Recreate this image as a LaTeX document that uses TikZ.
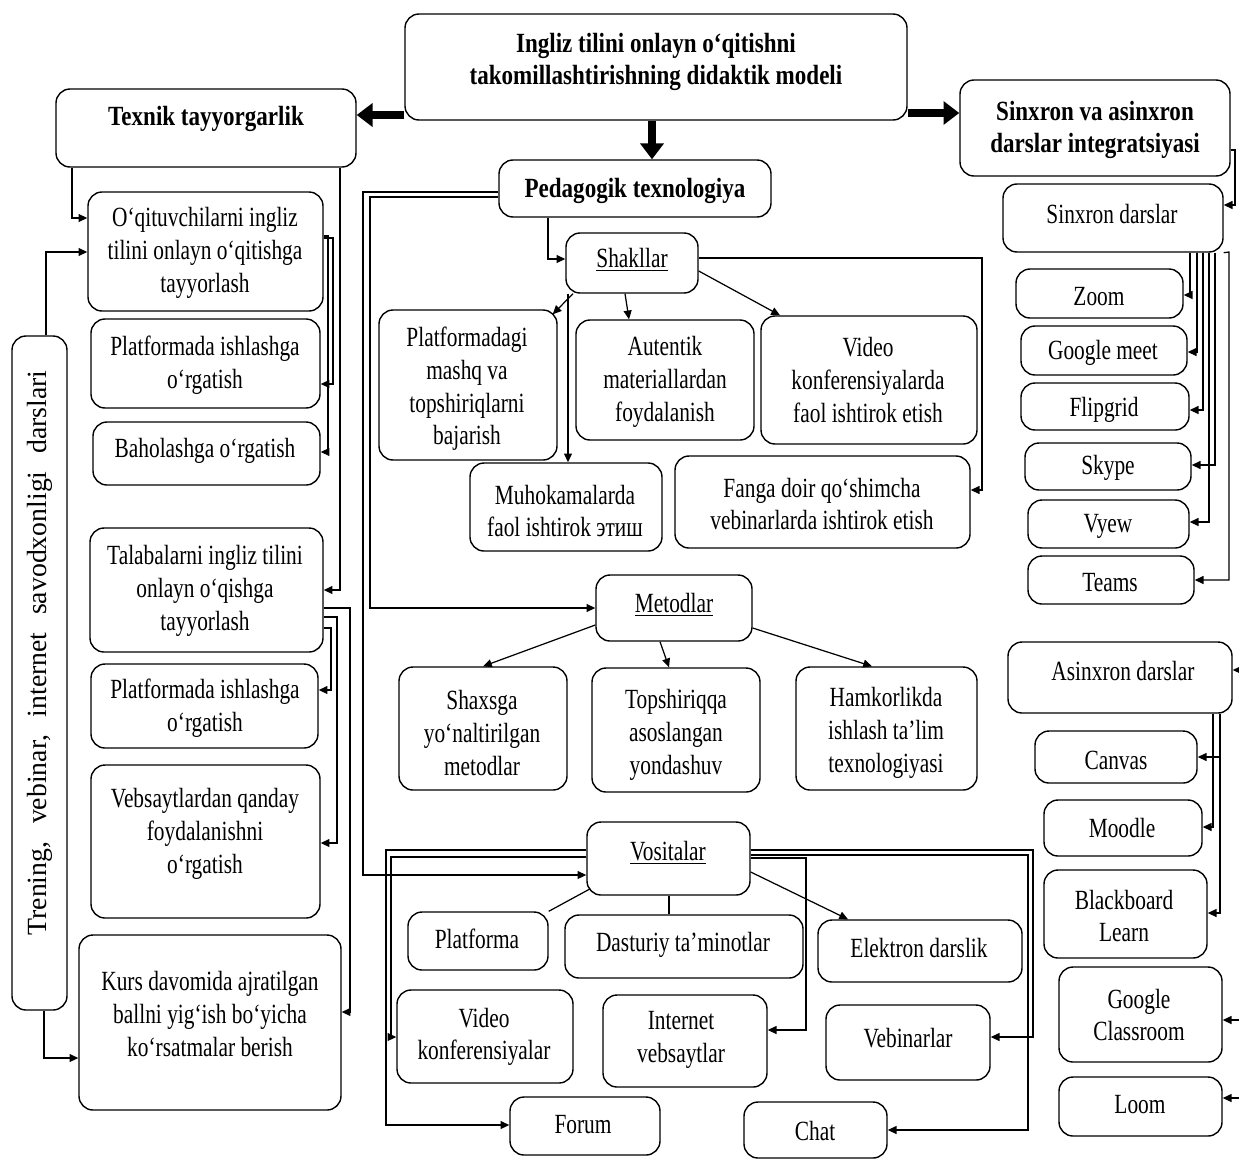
\documentclass[tikz,border=0pt]{standalone}
\usepackage{fontspec}
\setmainfont{Liberation Serif}[FakeStretch=0.77,BoldFeatures={FakeStretch=0.83}]
\newfontfamily\trenfont{Liberation Serif}[FakeStretch=1.0]
\usetikzlibrary{arrows.meta,fit,calc}
\newcommand\mybox[5]{\node[box,fit={(#2,#3)(#4,#5)}] (#1) {};}
\newcommand\mytext[4]{\node[txt] (#1t) at (#2,#3) {#4};}
\newcommand\mybold[4]{\node[btxt] (#1t) at (#2,#3) {#4};}
\begin{document}
\begin{tikzpicture}[x=0.02cm,y=-0.02cm,
  box/.style={draw,rounded corners=8pt,line width=0.8pt,inner sep=0pt},
  txt/.style={align=center,inner sep=0pt,font=\fontsize{15.8}{18.6}\selectfont},
  btxt/.style={align=center,inner sep=0pt,font=\fontsize{15.8}{18.6}\selectfont\bfseries},
  con/.style={line width=0.7pt},
  arr/.style={con,-{Triangle[length=5pt,width=4.5pt]}},
  big/.style={line width=4pt,-{Triangle[length=9pt,width=13pt]}}]
\fill[white] (0,0) rectangle (1239,1160);
\useasboundingbox (0,0) rectangle (1239,1160);

% ---------- boxes ----------
\mybox{top}{405}{14}{907}{120}
\mybox{tex}{56}{89}{356}{167}
\mybox{sva}{960}{80}{1230}{176}
\mybox{ped}{499}{160}{771}{217}
\mybox{o1}{88}{192}{323}{311}
\mybox{sha}{566}{233}{698}{293}
\mybox{sd}{1003}{184}{1223}{252}
\mybox{zoom}{1016}{269}{1183}{318}
\mybox{p1}{91}{319}{320}{408}
\mybox{pfd}{379}{310}{557}{460}
\mybox{aut}{576}{320}{754}{440}
\mybox{vid}{761}{316}{977}{444}
\mybox{gm}{1021}{326}{1187}{375}
\mybox{tre}{12}{336}{67}{1010}
\mybox{flip}{1021}{383}{1189}{430}
\mybox{bah}{93}{422}{320}{485}
\mybox{sky}{1025}{443}{1191}{490}
\mybox{muh}{470}{463}{662}{551}
\mybox{fan}{675}{456}{970}{548}
\mybox{vyew}{1028}{500}{1189}{548}
\mybox{tal}{90}{528}{323}{652}
\mybox{teams}{1028}{556}{1194}{604}
\mybox{met}{596}{575}{752}{641}
\mybox{asd}{1008}{642}{1232}{713}
\mybox{p2}{91}{664}{318}{748}
\mybox{sxs}{399}{667}{567}{790}
\mybox{tsq}{592}{668}{760}{792}
\mybox{ham}{796}{667}{977}{790}
\mybox{can}{1035}{731}{1197}{783}
\mybox{veb}{91}{765}{320}{918}
\mybox{moo}{1044}{800}{1202}{856}
\mybox{vos}{587}{822}{750}{895}
\mybox{bb}{1044}{870}{1207}{958}
\mybox{pfm}{408}{912}{548}{970}
\mybox{das}{565}{915}{803}{978}
\mybox{ele}{818}{920}{1022}{982}
\mybox{kurs}{79}{935}{341}{1110}
\mybox{gc}{1059}{967}{1222}{1062}
\mybox{vk}{397}{990}{573}{1083}
\mybox{inet}{603}{995}{767}{1087}
\mybox{vebi}{826}{1005}{990}{1080}
\mybox{loom}{1059}{1077}{1222}{1136}
\mybox{forum}{510}{1097}{660}{1155}
\mybox{chat}{744}{1102}{887}{1158}

% ---------- texts ----------
\mybold{top}{656}{62}{Ingliz tilini onlayn o‘qitishni\\takomillashtirishning didaktik modeli}
\mybold{tex}{206}{119}{Texnik tayyorgarlik}
\mybold{sva}{1095}{130}{Sinxron va asinxron\\darslar integratsiyasi}
\mybold{ped}{635}{191}{Pedagogik texnologiya}
\mytext{o1}{205}{253}{O‘qituvchilarni ingliz\\tilini onlayn o‘qitishga\\tayyorlash}
\mytext{sha}{632}{260}{\underline{Shakllar}}
\mytext{sd}{1112}{214}{Sinxron darslar}
\mytext{zoom}{1099}{297}{Zoom}
\mytext{p1}{205}{365}{Platformada ishlashga\\o‘rgatish}
\mytext{pfd}{467}{389}{Platformadagi\\mashq va\\topshiriqlarni\\bajarish}
\mytext{aut}{665}{382}{Autentik\\materiallardan\\foydalanish}
\mytext{vid}{868}{380}{Video\\konferensiyalarda\\faol ishtirok etish}
\mytext{gm}{1103}{353}{Google meet}
\mytext{flip}{1104}{410}{Flipgrid}
\mytext{bah}{205}{451}{Baholashga o‘rgatish}
\mytext{sky}{1108}{468}{Skype}
\mytext{muh}{565}{511}{Muhokamalarda\\faol ishtirok этиш}
\mytext{fan}{822}{504}{Fanga doir qo‘shimcha\\vebinarlarda ishtirok etish}
\mytext{vyew}{1108}{526}{Vyew}
\mytext{tal}{205}{591}{Talabalarni ingliz tilini\\onlayn o‘qishga\\tayyorlash}
\mytext{teams}{1110}{583}{Teams}
\mytext{met}{674}{605}{\underline{Metodlar}}
\mytext{asd}{1123}{671}{Asinxron darslar}
\mytext{p2}{205}{708}{Platformada ishlashga\\o‘rgatish}
\mytext{sxs}{482}{733}{Shaxsga\\yo‘naltirilgan\\metodlar}
\mytext{tsq}{676}{735}{Topshiriqqa\\asoslangan\\yondashuv}
\mytext{ham}{886}{733}{Hamkorlikda\\ishlash ta’lim\\texnologiyasi}
\mytext{can}{1116}{760}{Canvas}
\mytext{veb}{205}{834}{Vebsaytlardan qanday\\foydalanishni\\o‘rgatish}
\mytext{moo}{1122}{828}{Moodle}
\mytext{vos}{668}{853}{\underline{Vositalar}}
\mytext{bb}{1124}{916}{Blackboard\\Learn}
\mytext{pfm}{477}{939}{Platforma}
\mytext{das}{683}{945}{Dasturiy ta’minotlar}
\mytext{ele}{919}{948}{Elektron darslik}
\mytext{kurs}{210}{1014}{Kurs davomida ajratilgan\\ballni yig‘ish bo‘yicha\\ko‘rsatmalar berish}
\mytext{gc}{1139}{1015}{Google\\Classroom}
\mytext{vk}{484}{1037}{Video\\konferensiyalar}
\mytext{inet}{681}{1040}{Internet\\vebsaytlar}
\mytext{vebi}{908}{1038}{Vebinarlar}
\mytext{loom}{1140}{1105}{Loom}
\mytext{forum}{583}{1125}{Forum}
\mytext{chat}{815}{1131}{Chat}
\node[txt,rotate=90] (tret) at (40,653) {\trenfont\hbox to 11.3cm{Trening,\hfil vebinar,\hfil internet\hfil savodxonligi\hfil darslari}};

% ---------- thick arrows ----------
\draw[big] (top.west |- 0,115) -- (tex.east |- 0,115);
\draw[big] (top.south -| 652,0) -- (ped.north -| 652,0);
\draw[big] (top.east |- 0,113) -- (sva.west |- 0,113);

% ---------- left column ----------
\draw[arr] (tex.south -| 72,0) |- (o1.west |- 0,218);
\draw[arr] (tex.south -| 340,0) |- (tal.east |- 0,590);
\draw[arr] (o1.east |- 0,238) -- (333,238) |- (p1.east |- 0,384);
\draw[arr] (o1.east |- 0,236) -- (328,236) |- (bah.east |- 0,452);
\draw[arr] (tal.east |- 0,628) -- (331,628) |- (p2.east |- 0,690);
\draw[arr] (tal.east |- 0,617) -- (337,617) |- (veb.east |- 0,843);
\draw[arr] (tal.east |- 0,608) -- (350,608) |- (kurs.east |- 0,1012);
\draw[arr] (tre.north -| 46,0) |- (o1.west |- 0,252);
\draw[arr] (tre.south -| 44,0) |- (kurs.west |- 0,1058);

% ---------- pedagogik ----------
\draw[arr] (ped.south -| 548,0) |- (sha.west |- 0,259);
\draw[arr] (ped.west |- 0,192) -- (363,192) |- (vos.west |- 0,875);
\draw[arr] (ped.west |- 0,197) -- (370,197) |- (met.west |- 0,608);

% shakllar
\draw[arr] (sha.south -| 573,0) -- ($(pfd.north east)+(-5,5)$);
\draw[arr] (sha.south -| 568,0) -- (muh.north -| 568,0);
\draw[arr] (sha.south -| 625,0) -- (aut.north -| 629,0);
\draw[arr] (sha.east |- 0,271) -- (vid.north -| 780,0);
\draw[arr] (sha.east |- 0,258) -- (982,258) |- (fan.east |- 0,490);

% metodlar
\draw[arr] (met.west |- 0,625) -- (sxs.north -| 483,0);
\draw[arr] (met.south -| 660,0) -- (tsq.north -| 669,0);
\draw[arr] (met.east |- 0,628) -- (ham.north -| 872,0);

% vositalar
\draw[arr] (vos.west |- 0,850) -- (386,850) |- (forum.west |- 0,1125);
\draw[arr] (vos.west |- 0,857) -- (391,857) |- (vk.west |- 0,1037);
\draw[arr] (vos.east |- 0,850) -- (1033,850) |- (vebi.east |- 0,1037);
\draw[arr] (vos.east |- 0,855) -- (1028,855) |- (chat.east |- 0,1130);
\draw[arr] (vos.east |- 0,858) -- (806,858) |- (inet.east |- 0,1030);
\draw[con] ($(vos.south west)+(4,-7)$) -- (pfm.north east);
\draw[con] (vos.south -| 669,0) -- (das.north -| 669,0);
\draw[arr] (vos.east |- 0,872) -- (ele.north -| 848,0);

% ---------- right column ----------
\draw[arr] (sva.east |- 0,150) -- (1235,150) |- (sd.east |- 0,205);
\draw[arr] (sd.south -| 1190,0) |- (zoom.east |- 0,295);
\draw[arr] (sd.south -| 1197,0) |- (gm.east |- 0,352);
\draw[arr] (sd.south -| 1203,0) |- (flip.east |- 0,410);
\draw[arr] (sd.south -| 1215,0) |- (sky.east |- 0,465);
\draw[arr] (sd.south -| 1209,0) |- (vyew.east |- 0,522);
\draw[arr] (sd.south east) -- (1229,252) |- (teams.east |- 0,580);

\draw[arr] (asd.south -| 1220,0) |- (can.east |- 0,757);
\draw[arr] (asd.south -| 1213,0) |- (moo.east |- 0,827);
\draw[arr] (asd.south -| 1220,0) |- (bb.east |- 0,913);
\coordinate (r1) at (1239,670);
\coordinate (r2) at (1239,1020);
\coordinate (r3) at (1239,1098);
\draw[arr] (r1) -- (asd.east |- r1);
\draw[arr] (r2) -- (gc.east |- r2);
\draw[arr] (r3) -- (loom.east |- r3);
\end{tikzpicture}
\end{document}
